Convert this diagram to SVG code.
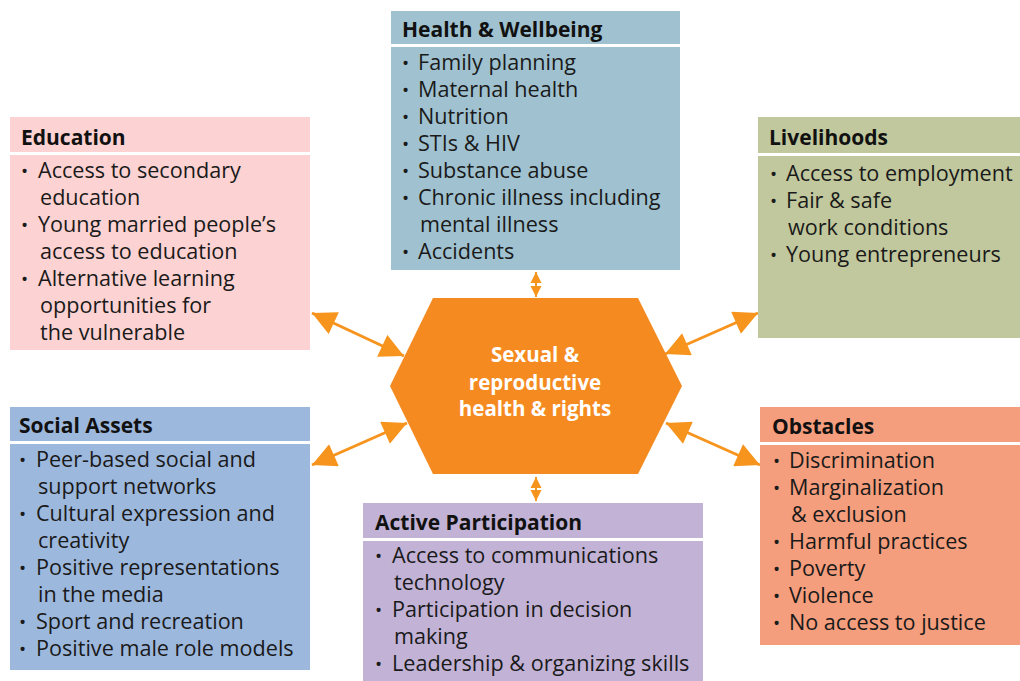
<svg xmlns="http://www.w3.org/2000/svg" width="1020" height="681" viewBox="0 0 1020 681">
<defs>
<style>
.hd{font-family:"Open Sans",Lato,sans-serif;font-weight:bold;font-size:21px;fill:#111}
.tx{font-family:"Open Sans",Lato,sans-serif;font-size:21.6px;fill:#1a1a1a}
.bu{font-size:19px}
.sep{stroke:#fff;stroke-width:3}
.con{stroke:#F7941D;stroke-width:3;fill:none}
.cs{stroke:#F7941D;stroke-width:2;fill:none}
.ctr{font-family:"Open Sans",Lato,sans-serif;font-weight:bold;font-size:20.5px;fill:#fff;text-anchor:middle}
</style>
<marker id="ah" viewBox="0 0 10 10" refX="10" refY="5" markerWidth="26" markerHeight="24" markerUnits="userSpaceOnUse" orient="auto-start-reverse">
<path d="M0,0 L10,5 L0,10 z" fill="#F7941D"/>
</marker>
<marker id="as" viewBox="0 0 10 10" refX="10" refY="5" markerWidth="11" markerHeight="13" markerUnits="userSpaceOnUse" orient="auto-start-reverse">
<path d="M0,0 L10,5 L0,10 z" fill="#F7941D"/>
</marker>
</defs>
<rect width="1020" height="681" fill="#fff"/>

<g id="connectors">
<line class="con" x1="312" y1="313" x2="404" y2="356" marker-start="url(#ah)" marker-end="url(#ah)"/>
<line class="con" x1="312" y1="465" x2="407" y2="423" marker-start="url(#ah)" marker-end="url(#ah)"/>
<line class="con" x1="758" y1="313" x2="665" y2="354" marker-start="url(#ah)" marker-end="url(#ah)"/>
<line class="con" x1="760" y1="465" x2="666" y2="423" marker-start="url(#ah)" marker-end="url(#ah)"/>
<line class="cs" x1="536" y1="272" x2="536" y2="297" marker-start="url(#as)" marker-end="url(#as)"/>
<line class="cs" x1="536" y1="477" x2="536" y2="501" marker-start="url(#as)" marker-end="url(#as)"/>
</g>

<g id="center">
<polygon points="390,386 433,298 638,298 682,386 638,474 433,474" fill="#F58A21"/>
<text class="ctr" x="535" y="362">Sexual &amp;</text>
<text class="ctr" x="535" y="390">reproductive</text>
<text class="ctr" x="535" y="416">health &amp; rights</text>
</g>

<g id="health">
<rect x="391" y="11" width="289" height="259" fill="#A0C2D0"/>
<line class="sep" x1="391" y1="45.5" x2="680" y2="45.5"/>
<text class="hd" x="402" y="37">Health &amp; Wellbeing</text>
<text class="tx" y="70"><tspan class="bu" x="402">•</tspan><tspan x="418">Family planning</tspan></text>
<text class="tx" y="97"><tspan class="bu" x="402">•</tspan><tspan x="418">Maternal health</tspan></text>
<text class="tx" y="124"><tspan class="bu" x="402">•</tspan><tspan x="418">Nutrition</tspan></text>
<text class="tx" y="151"><tspan class="bu" x="402">•</tspan><tspan x="418">STIs &amp; HIV</tspan></text>
<text class="tx" y="178"><tspan class="bu" x="402">•</tspan><tspan x="418">Substance abuse</tspan></text>
<text class="tx" y="205"><tspan class="bu" x="402">•</tspan><tspan x="418">Chronic illness including</tspan><tspan x="420" y="232">mental illness</tspan></text>
<text class="tx" y="259"><tspan class="bu" x="402">•</tspan><tspan x="418">Accidents</tspan></text>
</g>

<g id="education">
<rect x="10" y="117" width="300" height="233" fill="#FCD3D2"/>
<line class="sep" x1="10" y1="153.5" x2="310" y2="153.5"/>
<text class="hd" x="21" y="145">Education</text>
<text class="tx" y="178"><tspan class="bu" x="21">•</tspan><tspan x="38">Access to secondary</tspan><tspan x="40" y="205">education</tspan></text>
<text class="tx" y="232"><tspan class="bu" x="21">•</tspan><tspan x="38">Young married people’s</tspan><tspan x="40" y="259">access to education</tspan></text>
<text class="tx" y="286"><tspan class="bu" x="21">•</tspan><tspan x="38">Alternative learning</tspan><tspan x="40" y="313">opportunities for</tspan><tspan x="40" y="340">the vulnerable</tspan></text>
</g>

<g id="livelihoods">
<rect x="758" y="117" width="262" height="221" fill="#C1C89D"/>
<line class="sep" x1="758" y1="154.5" x2="1020" y2="154.5"/>
<text class="hd" x="769" y="145">Livelihoods</text>
<text class="tx" y="181"><tspan class="bu" x="770">•</tspan><tspan x="786">Access to employment</tspan></text>
<text class="tx" y="208"><tspan class="bu" x="770">•</tspan><tspan x="786">Fair &amp; safe</tspan><tspan x="788" y="235">work conditions</tspan></text>
<text class="tx" y="262"><tspan class="bu" x="770">•</tspan><tspan x="786">Young entrepreneurs</tspan></text>
</g>

<g id="social">
<rect x="10" y="407" width="300" height="263" fill="#9DB8DD"/>
<line class="sep" x1="10" y1="442.5" x2="310" y2="442.5"/>
<text class="hd" x="19" y="433">Social Assets</text>
<text class="tx" y="467"><tspan class="bu" x="19">•</tspan><tspan x="36">Peer-based social and</tspan><tspan x="38" y="494">support networks</tspan></text>
<text class="tx" y="521"><tspan class="bu" x="19">•</tspan><tspan x="36">Cultural expression and</tspan><tspan x="38" y="548">creativity</tspan></text>
<text class="tx" y="575"><tspan class="bu" x="19">•</tspan><tspan x="36">Positive representations</tspan><tspan x="38" y="602">in the media</tspan></text>
<text class="tx" y="629"><tspan class="bu" x="19">•</tspan><tspan x="36">Sport and recreation</tspan></text>
<text class="tx" y="656"><tspan class="bu" x="19">•</tspan><tspan x="36">Positive male role models</tspan></text>
</g>

<g id="obstacles">
<rect x="760" y="407" width="260" height="238" fill="#F59E7D"/>
<line class="sep" x1="760" y1="443.5" x2="1020" y2="443.5"/>
<text class="hd" x="772" y="434">Obstacles</text>
<text class="tx" y="468"><tspan class="bu" x="773">•</tspan><tspan x="789">Discrimination</tspan></text>
<text class="tx" y="495"><tspan class="bu" x="773">•</tspan><tspan x="789">Marginalization</tspan><tspan x="791" y="522">&amp; exclusion</tspan></text>
<text class="tx" y="549"><tspan class="bu" x="773">•</tspan><tspan x="789">Harmful practices</tspan></text>
<text class="tx" y="576"><tspan class="bu" x="773">•</tspan><tspan x="789">Poverty</tspan></text>
<text class="tx" y="603"><tspan class="bu" x="773">•</tspan><tspan x="789">Violence</tspan></text>
<text class="tx" y="630"><tspan class="bu" x="773">•</tspan><tspan x="789">No access to justice</tspan></text>
</g>

<g id="participation">
<rect x="363" y="503" width="340" height="178" fill="#C2B3D6"/>
<line class="sep" x1="363" y1="539.5" x2="703" y2="539.5"/>
<text class="hd" x="375" y="530">Active Participation</text>
<text class="tx" y="563"><tspan class="bu" x="375">•</tspan><tspan x="392">Access to communications</tspan><tspan x="394" y="590">technology</tspan></text>
<text class="tx" y="617"><tspan class="bu" x="375">•</tspan><tspan x="392">Participation in decision</tspan><tspan x="394" y="644">making</tspan></text>
<text class="tx" y="671"><tspan class="bu" x="375">•</tspan><tspan x="392">Leadership &amp; organizing skills</tspan></text>
</g>
</svg>
